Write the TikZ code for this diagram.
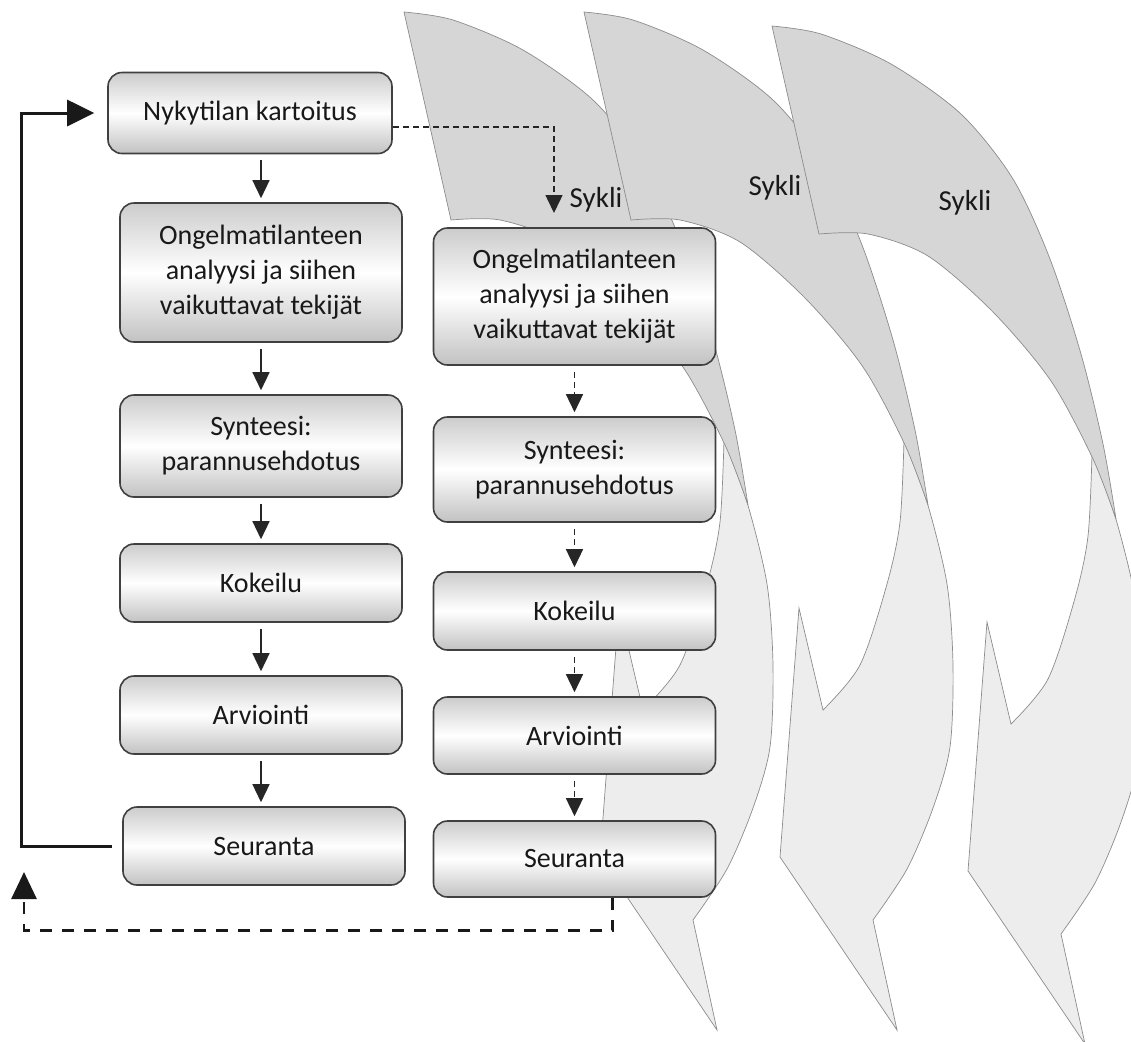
\documentclass[tikz,border=0pt]{standalone}
\usepackage{fontspec}
\setmainfont{Carlito}
\usepackage{tikz}
\usetikzlibrary{arrows.meta,positioning,shapes,calc}

\begin{document}
\begin{tikzpicture}[x = 0.5pt, y = -0.5pt,
  vaihe/.style = {draw = black!75, line width = 0.8pt, rounded corners = 7pt, top color = black!20, bottom color = black!24, middle color = white, align = center, font = \fontsize{14}{17.5}\selectfont, text = black!90, minimum width = 141pt, inner sep = 2pt},
  otsikko/.style = {font = \fontsize{14.5}{17.5}\selectfont, text = black!90, inner sep = 1pt},
  kulku/.style = {-{Triangle[width = 8.5pt, length = 9pt]}, line width = 0.7pt, black!85, shorten <= 3pt, shorten >= 2pt},
  kulkuk/.style = {kulku, dash pattern = on 3pt off 2pt},
  takaisin/.style = {line width = 1.5pt, black!90},
  nauha/.style = {draw = black!45, line width = 0.35pt, fill = black!16},
  nauhaeteen/.style = {draw = black!45, line width = 0.35pt, fill = black!7}]
\useasboundingbox (0,0) rectangle (1131,1041);
% kolme syklinuolta
\foreach \dx/\dy in {-180/0, 0/0, 188/14} {
  \begin{scope}[shift = {(\dx,\dy)}]
    \filldraw[nauhaeteen] plot[smooth] coordinates {(904,440) (927,502) (947,584) (953,665) (950,747) (933,808) (907,869) (873,920)}
      -- (897,1030) -- (780,857) -- (799,608) -- (823,710)
      -- plot[smooth] coordinates {(823,710) (860,665) (887,584) (900,522) (904,440)} -- cycle;
    \filldraw[nauha] plot[smooth] coordinates {(584,12) (633,20) (703,50) (773,100) (825,165) (862,245) (893,340) (915,430) (928,505)}
      -- plot[smooth] coordinates {(928,505) (905,445) (863,367) (805,298) (740,242) (680,220) (631,220)} -- cycle;
  \end{scope}
}
\node[otsikko] (sykli1) at (596,200) {Sykli};
\node[otsikko] (sykli2) at (775,188) {Sykli};
\node[otsikko] (sykli3) at (965,203) {Sykli};
% vasen sarake
\node[vaihe, minimum width = 142pt, minimum height = 40.5pt] (nyky) at (250,113) {Nykytilan kartoitus};
\node[vaihe, minimum height = 69.5pt] (analyysi) at (261,272.5) {Ongelmatilanteen\\analyysi ja siihen\\vaikuttavat tekijät};
\node[vaihe, minimum height = 51pt] (synteesi) at (261,446) {Synteesi:\\parannusehdotus};
\node[vaihe, minimum height = 39pt] (kokeilu) at (261,583) {Kokeilu};
\node[vaihe, minimum height = 39pt] (arviointi) at (261,715) {Arviointi};
\node[vaihe, minimum height = 39pt] (seuranta) at (264,846) {Seuranta};
% oikea sarake
\node[vaihe, minimum height = 68.5pt] (analyysi2) at (574.5,296.5) {Ongelmatilanteen\\analyysi ja siihen\\vaikuttavat tekijät};
\node[vaihe, minimum height = 52.5pt] (synteesi2) at (574.5,469.5) {Synteesi:\\parannusehdotus};
\node[vaihe, minimum height = 39pt] (kokeilu2) at (574.5,611) {Kokeilu};
\node[vaihe, minimum height = 38.5pt] (arviointi2) at (574.5,735.5) {Arviointi};
\node[vaihe, minimum height = 38pt] (seuranta2) at (574.5,859) {Seuranta};
\draw[kulku] (nyky.south -| analyysi) -- (analyysi);
\draw[kulku] (analyysi) -- (synteesi);
\draw[kulku] (synteesi) -- (kokeilu);
\draw[kulku] (kokeilu) -- (arviointi);
\draw[kulku] (arviointi.south) -- (arviointi.south |- seuranta.north);
\draw[kulkuk] (analyysi2) -- (synteesi2);
\draw[kulkuk] (synteesi2) -- (kokeilu2);
\draw[kulkuk] (kokeilu2) -- (arviointi2);
\draw[kulkuk] (arviointi2) -- (seuranta2);
% uusi sykli ja paluu alkuun
\coordinate (syklialku) at (554,213);
\draw[kulkuk, shorten <= 0pt, shorten >= 0pt] ([yshift = -7pt]nyky.east) -| (syklialku);
\draw[takaisin, -{Triangle[width = 13pt, length = 13.5pt]}, shorten >= 6.5pt] ([xshift = -5pt]seuranta.west) -- ++(-91,0) |- (nyky.west);
\coordinate (paluu) at (24,872);
\draw[takaisin, line width = 1.4pt, dash pattern = on 6pt off 5pt, -{Triangle[width = 12.5pt, length = 13.5pt]}] ([xshift = 19pt]seuranta2.south) -- ++(0,33) -| (paluu);
\end{tikzpicture}
\end{document}
